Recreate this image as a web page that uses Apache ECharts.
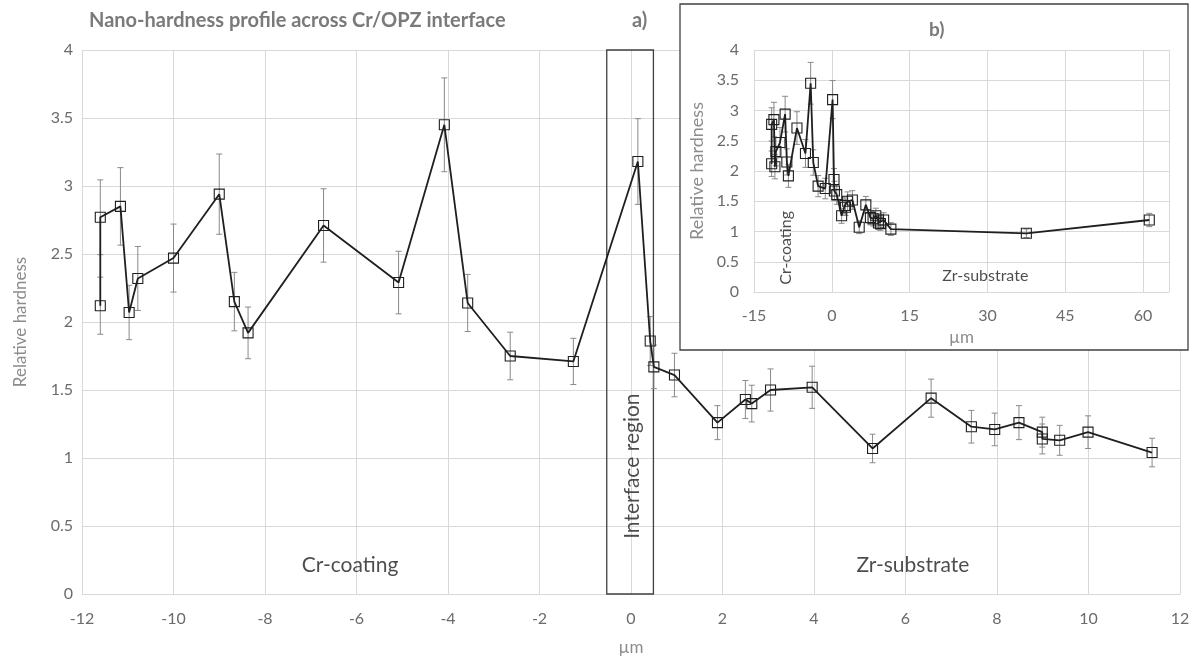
<!DOCTYPE html>
<html>
<head>
<meta charset="utf-8">
<script src="https://cdn.jsdelivr.net/npm/echarts@6/dist/echarts.min.js"></script>
<style>
html,body{margin:0;padding:0;background:#fff;}
#chart{width:1197px;height:661px;}
</style>
</head>
<body>
<div id="chart"></div>
<script>
// ---- data ----
const positions = [-11.6, -11.6, -11.16, -10.97, -10.78, -10.0, -9.0, -8.67, -8.37, -6.72, -5.08, -4.08, -3.57, -2.64, -1.26, 0.15, 0.42, 0.50, 0.95, 1.89, 2.50, 2.64, 3.05, 3.96, 5.28, 6.56, 7.44, 7.95, 8.48, 8.99, 8.99, 9.37, 9.99, 11.39];
const hardness  = [2.12, 2.77, 2.85, 2.07, 2.32, 2.47, 2.94, 2.15, 1.92, 2.71, 2.29, 3.45, 2.14, 1.75, 1.71, 3.18, 1.86, 1.67, 1.61, 1.26, 1.43, 1.40, 1.50, 1.52, 1.07, 1.44, 1.23, 1.21, 1.26, 1.19, 1.14, 1.13, 1.19, 1.04];
const errors    = [0.21, 0.275, 0.285, 0.20, 0.235, 0.25, 0.295, 0.215, 0.19, 0.27, 0.23, 0.345, 0.21, 0.175, 0.17, 0.315, 0.18, 0.16, 0.16, 0.125, 0.14, 0.135, 0.155, 0.155, 0.105, 0.14, 0.12, 0.12, 0.125, 0.11, 0.11, 0.11, 0.12, 0.105];
// deeper substrate points only shown in the inset
const deepPositions = [37.5, 61.2];
const deepHardness  = [0.97, 1.19];
const deepErrors    = [0.07, 0.11];
// tick settings
const mainXTicks = {min: -12, max: 12, interval: 2};
const insetXTicks = {min: -15, max: 65, interval: 15};
const yTicks = {min: 0, max: 4, interval: 0.5};
// interface region bounds (µm) as drawn in each panel
const interfaceMain = [-0.53, 0.49];
const interfaceInset = [-1.2, 1.6];
// annotation anchors [x, y]
const mainLabels = [
  {name: 'Cr-coating', at: [-6.14, 0.21], rotate: 0},
  {name: 'Zr-substrate', at: [6.16, 0.21], rotate: 0},
  {name: 'Interface region', at: [0.02, 0.94], rotate: 90}
];
const insetLabels = [
  {name: 'Cr-coating', at: [-8.8, 0.73], rotate: 90},
  {name: 'Zr-substrate', at: [29.6, 0.27], rotate: 0}
];

const FONT = 'Lato, "Open Sans", sans-serif';
const LABEL = '#6b6b6b';
const GRID = '#d9d9d9';

const mainData = positions.map((x, i) => [x, hardness[i]]);
const mainErr = positions.map((x, i) => [x, hardness[i], errors[i]]);
const allPos = positions.concat(deepPositions);
const allHard = hardness.concat(deepHardness);
const allErr = errors.concat(deepErrors);
const insetData = allPos.map((x, i) => [x, allHard[i]]);
const insetErr = allPos.map((x, i) => [x, allHard[i], allErr[i]]);

function errRender(params, api) {
  const x = api.value(0), y = api.value(1), e = api.value(2);
  const t = api.coord([x, y + e]), b = api.coord([x, y - e]);
  const w = 3;
  const st = {stroke: '#8a8a8a', lineWidth: 1};
  return {type: 'group', children: [
    {type: 'line', shape: {x1: t[0], y1: t[1], x2: b[0], y2: b[1]}, style: st},
    {type: 'line', shape: {x1: t[0] - w, y1: t[1], x2: t[0] + w, y2: t[1]}, style: st},
    {type: 'line', shape: {x1: b[0] - w, y1: b[1], x2: b[0] + w, y2: b[1]}, style: st}
  ]};
}

function labelSeries(list, xi, yi, size, z) {
  return {
    type: 'scatter', xAxisIndex: xi, yAxisIndex: yi, z: z, silent: true,
    symbolSize: 1, itemStyle: {color: 'rgba(0,0,0,0)'},
    data: list.map(l => ({name: l.name, value: l.at, label: {rotate: l.rotate}})),
    label: {show: true, position: 'inside', formatter: p => p.name,
      color: '#1f1f1f', fontFamily: FONT, fontSize: size}
  };
}

const chart = echarts.init(document.getElementById('chart'), null, {renderer: 'canvas'});
chart.setOption({
  animation: false,
  backgroundColor: '#fff',
  title: [
    {text: 'Nano-hardness profile across Cr/OPZ interface', left: 84, top: 6,
      textStyle: {fontFamily: FONT, fontSize: 20, fontWeight: 'bold', color: '#7a7a7a'}},
    {text: 'a)', left: 627, top: 6,
      textStyle: {fontFamily: FONT, fontSize: 20, fontWeight: 'bold', color: '#7a7a7a'}},
    {text: 'b)', left: 924, top: 15, z: 20,
      textStyle: {fontFamily: FONT, fontSize: 19, fontWeight: 'bold', color: '#7a7a7a'}}
  ],
  graphic: [{
    type: 'rect', z: 5,
    shape: {x: 680, y: 4, width: 508, height: 346},
    style: {fill: '#fff', stroke: '#404040', lineWidth: 1.3}
  }],
  grid: [
    {left: 82, right: 17, top: 50, bottom: 67},
    {left: 754, right: 28, top: 50, bottom: 369}
  ],
  xAxis: [
    {type: 'value', gridIndex: 0, min: mainXTicks.min, max: mainXTicks.max, interval: mainXTicks.interval,
      name: 'µm', nameLocation: 'middle', nameGap: 45,
      nameTextStyle: {fontFamily: FONT, fontSize: 17, color: '#8c8c8c'},
      axisLine: {show: true, onZero: false, lineStyle: {color: GRID, width: 1}},
      axisTick: {show: false},
      axisLabel: {margin: 17, fontFamily: FONT, fontSize: 16, color: LABEL},
      splitLine: {show: true, lineStyle: {color: GRID, width: 1}}},
    {type: 'value', gridIndex: 1, z: 10, min: insetXTicks.min, max: insetXTicks.max, interval: insetXTicks.interval,
      name: 'µm', nameLocation: 'middle', nameGap: 37,
      nameTextStyle: {fontFamily: FONT, fontSize: 17, color: '#8c8c8c'},
      axisLine: {show: true, onZero: false, lineStyle: {color: GRID, width: 1}},
      axisTick: {show: false},
      axisLabel: {margin: 16, fontFamily: FONT, fontSize: 16, color: LABEL, showMaxLabel: false},
      splitLine: {show: true, lineStyle: {color: GRID, width: 1}}}
  ],
  yAxis: [
    {type: 'value', gridIndex: 0, min: yTicks.min, max: yTicks.max, interval: yTicks.interval,
      name: 'Relative hardness', nameLocation: 'middle', nameGap: 53,
      nameTextStyle: {fontFamily: FONT, fontSize: 17, color: '#8c8c8c'},
      axisLine: {show: false}, axisTick: {show: false},
      axisLabel: {margin: 9, fontFamily: FONT, fontSize: 16, color: LABEL},
      splitLine: {show: true, lineStyle: {color: GRID, width: 1}}},
    {type: 'value', gridIndex: 1, z: 10, min: yTicks.min, max: yTicks.max, interval: yTicks.interval,
      name: 'Relative hardness', nameLocation: 'middle', nameGap: 48,
      nameTextStyle: {fontFamily: FONT, fontSize: 18, color: '#8c8c8c'},
      axisLine: {show: false}, axisTick: {show: false},
      axisLabel: {margin: 15, fontFamily: FONT, fontSize: 16, color: LABEL},
      splitLine: {show: true, lineStyle: {color: GRID, width: 1}}}
  ],
  series: [
    {type: 'custom', xAxisIndex: 0, yAxisIndex: 0, z: 2, silent: true,
      renderItem: errRender, encode: {x: 0, y: 1}, data: mainErr},
    {type: 'line', xAxisIndex: 0, yAxisIndex: 0, z: 3, data: mainData,
      symbol: 'rect', symbolSize: 10, showAllSymbol: true,
      lineStyle: {color: '#1f1f1f', width: 1.8},
      itemStyle: {color: 'rgba(255,255,255,0)', borderColor: '#1f1f1f', borderWidth: 1.1},
      markArea: {silent: true,
        itemStyle: {color: 'rgba(0,0,0,0)', borderColor: '#404040', borderWidth: 1.3},
        data: [[{xAxis: interfaceMain[0], yAxis: yTicks.min}, {xAxis: interfaceMain[1], yAxis: yTicks.max}]]}},
    labelSeries(mainLabels, 0, 0, 21, 4),
    {type: 'custom', xAxisIndex: 1, yAxisIndex: 1, z: 11, silent: true,
      renderItem: errRender, encode: {x: 0, y: 1}, data: insetErr},
    {type: 'line', xAxisIndex: 1, yAxisIndex: 1, z: 12, data: insetData,
      symbol: 'rect', symbolSize: 10, showAllSymbol: true,
      lineStyle: {color: '#1f1f1f', width: 1.8},
      itemStyle: {color: 'rgba(255,255,255,0)', borderColor: '#1f1f1f', borderWidth: 1.1},
      markArea: {silent: true,
        itemStyle: {color: 'rgba(0,0,0,0)', borderColor: '#404040', borderWidth: 1.3},
        data: [[{xAxis: interfaceInset[0], yAxis: yTicks.min}, {xAxis: interfaceInset[1], yAxis: yTicks.max}]]}},
    labelSeries(insetLabels, 1, 1, 16, 13)
  ]
});
</script>
</body>
</html>
